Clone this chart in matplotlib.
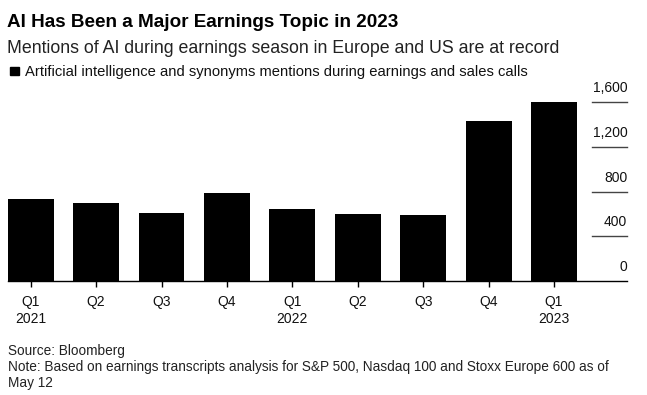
import numpy as np
import matplotlib
matplotlib.use("Agg")
from matplotlib import pyplot as plt
from matplotlib.patches import Rectangle

# values (mentions per quarter)
quarters = ["Q1", "Q2", "Q3", "Q4", "Q1", "Q2", "Q3", "Q4", "Q1"]
years = ["2021", "", "", "", "2022", "", "", "", "2023"]
mentions = [730, 694, 610, 784, 640, 596, 589, 1435, 1600]
yticks = [0, 400, 800, 1200, 1600]
ytick_labels = ["0", "400", "800", "1,200", "1,600"]

title = "AI Has Been a Major Earnings Topic in 2023"
subtitle = "Mentions of AI during earnings season in Europe and US are at record"
legend_label = "Artificial intelligence and synonyms mentions during earnings and sales calls"
source = "Source: Bloomberg"
note = "Note: Based on earnings transcripts analysis for S&P 500, Nasdaq 100 and Stoxx Europe 600 as of\nMay 12"

plt.rcParams['font.family'] = ['Liberation Sans', 'DejaVu Sans']

W, H = 647, 395
fig = plt.figure(figsize=(W / 100, H / 100), dpi=100)

def fx(px):
    return px / W

def fy(py):
    return 1 - py / H

# axes box in pixel terms
left, right, top, base = 7.8, 627.3, 102.3, 280.7
ax = fig.add_axes([fx(left), fy(base), fx(right - left), (base - top) / H])

x = np.arange(len(mentions))
ax.bar(x, mentions, width=0.70, color="black", clip_on=False, zorder=2)
ax.set_xlim(-0.35, 9.12)
ax.set_ylim(0, 1600)

for s in ["top", "right", "left"]:
    ax.spines[s].set_visible(False)
ax.spines["bottom"].set_linewidth(1.0)
ax.spines["bottom"].set_zorder(3)

ax.set_xticks(x)
ax.set_xticklabels([q + "\n" + y if y else q for q, y in zip(quarters, years)],
                   fontsize=10, color="#111111", va="top", linespacing=1.35)
ax.tick_params(axis="x", length=4, width=1, color="black", pad=6)

# right hand value axis: short rules with labels sitting above them
ax.set_yticks([])
for v, lab in zip(yticks, ytick_labels):
    if v > 0:
        ax.axhline(v, xmin=(591.7 - left) / (right - left), xmax=1.0,
                   color="#444444", lw=1.0, clip_on=False)
    ax.annotate(lab, xy=(1.0, v), xycoords=("axes fraction", "data"),
                xytext=(0, 5), textcoords="offset points",
                ha="right", va="bottom", fontsize=10, color="#111111")

fig.text(fx(7), fy(27.3), title, fontsize=13.6, fontweight="bold",
         color="black", va="baseline")
fig.text(fx(7), fy(53.3), subtitle, fontsize=12.75, color="#222222",
         va="baseline")
fig.patches.append(Rectangle((fx(9.7), fy(75.3)), fx(9.3), (75.3 - 66.7) / H,
                             transform=fig.transFigure, color="black"))
fig.text(fx(25), fy(76), legend_label, fontsize=10.6, color="#111111",
         va="baseline")

fig.text(fx(8), fy(355), source, fontsize=9.8, color="#222222", va="baseline")
fig.text(fx(8), fy(387), note, fontsize=9.8, color="#222222", va="baseline",
         linespacing=1.2)

plt.savefig("out.png", dpi=100)
